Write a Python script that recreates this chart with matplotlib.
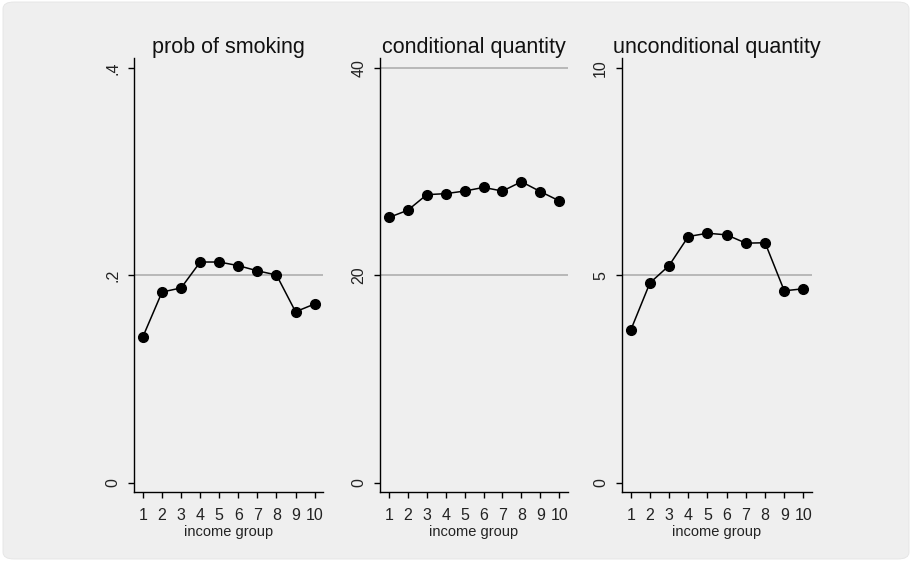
import matplotlib
matplotlib.use("Agg")
import matplotlib.pyplot as plt
from matplotlib.patches import FancyBboxPatch

plt.rcParams['font.family'] = ['Liberation Sans', 'DejaVu Sans']

# Income groups and the three outcomes by group
income_group = [1, 2, 3, 4, 5, 6, 7, 8, 9, 10]
prob_smoking = [0.141, 0.184, 0.188, 0.213, 0.213, 0.2095, 0.2045, 0.2005, 0.165, 0.1725]
cond_quantity = [25.6, 26.3, 27.8, 27.9, 28.15, 28.5, 28.15, 29.05, 28.1, 27.2]
uncond_quantity = [3.68, 4.82, 5.24, 5.94, 6.02, 5.98, 5.78, 5.79, 4.63, 4.68]

titles = ["prob of smoking", "conditional quantity", "unconditional quantity"]
ytick_vals = [[0, 0.2, 0.4], [0, 20, 40], [0, 5, 10]]
ytick_labels = [["0", ".2", ".4"], ["0", "20", "40"], ["0", "5", "10"]]
series = [prob_smoking, cond_quantity, uncond_quantity]

W, H = 912, 561
BG = "#efefef"
GRID = "#a9a9a9"

fig = plt.figure(figsize=(W / 100, H / 100), dpi=100, facecolor="white")

# rounded grey graph region, kept behind the panels
box = FancyBboxPatch((3 / W, 2 / H), (W - 6) / W, (H - 4) / H,
                     boxstyle="round,pad=0,rounding_size=0.012",
                     transform=fig.transFigure, facecolor=BG,
                     edgecolor="#e4e4e4", linewidth=0.6, zorder=-10)
fig.patches.append(box)

lefts = [134, 380, 621.7]
rights = [323.4, 568, 812.3]
top_px, bot_px = 58.3, 492.3

for i in range(3):
    l, r = lefts[i], rights[i]
    ax = fig.add_axes([l / W, (H - bot_px) / H, (r - l) / W, (bot_px - top_px) / H])
    ax.set_zorder(1)
    ax.set_facecolor("none")
    R = ytick_vals[i][-1]
    ax.set_ylim(-0.0232 * R, 1.0241 * R)
    ax.set_xlim(0.53, 10.46)

    # horizontal grid lines
    ax.axhline(ytick_vals[i][1], color=GRID, lw=1.1, zorder=1)
    if i == 1:
        ax.axhline(ytick_vals[i][2], color=GRID, lw=1.1, zorder=1)

    ax.plot(income_group, series[i], color="black", lw=1.1, marker="o",
            markersize=7, markerfacecolor="black", markeredgecolor="black",
            zorder=3, clip_on=False)

    for s in ["top", "right"]:
        ax.spines[s].set_visible(False)
    for s in ["left", "bottom"]:
        ax.spines[s].set_color("black")
        ax.spines[s].set_linewidth(1.0)

    ax.set_xticks(income_group)
    ax.set_xticklabels([str(v) for v in income_group], fontsize=11.5)
    ax.set_yticks(ytick_vals[i])
    ax.set_yticklabels(ytick_labels[i], fontsize=11.5, rotation=90, va="center")
    ax.tick_params(axis="x", length=4.5, width=1.0, pad=6.5, colors="black")
    ax.tick_params(axis="y", length=4.5, width=1.0, pad=5.2, colors="black")
    for lab in ax.get_xticklabels() + ax.get_yticklabels():
        lab.set_color("#222222")

    ax.set_xlabel("income group", fontsize=10.5, labelpad=1.5, color="#222222")
    ax.set_title(titles[i], fontsize=15.5, pad=4, color="#111111")

fig.savefig("out.png", dpi=100, facecolor="white")
